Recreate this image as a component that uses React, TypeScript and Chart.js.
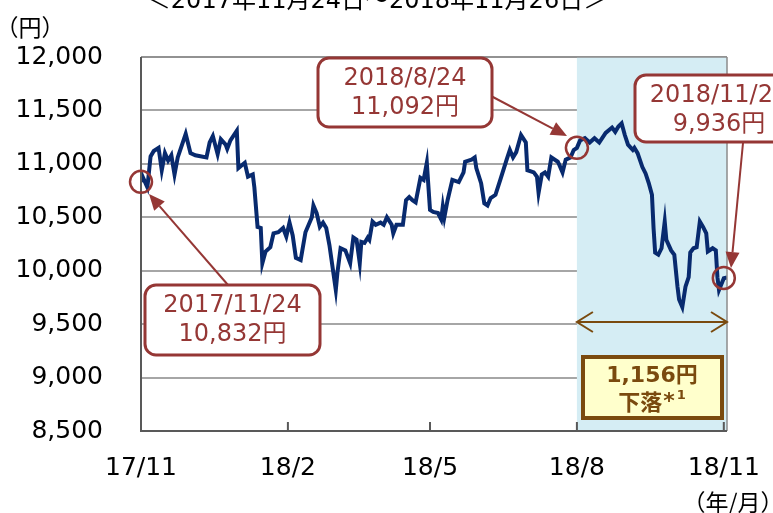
import React, { useEffect, useRef } from 'react';
import { Chart, registerables } from 'chart.js';

Chart.register(...registerables);

// x = calendar days since 2017/11/24
const days = [
  0, 1, 4, 6, 8, 11, 13, 15, 17, 19, 21, 23, 28, 31, 34, 41, 43, 45, 48, 50, 53, 54, 56, 60, 61, 65, 67, 70, 71, 73,
  75, 76, 78, 81, 83, 86, 89, 91, 93, 95, 97, 100, 103, 107, 108, 110, 112, 114, 116, 118, 122, 123, 125, 128, 131,
  133, 135, 137, 138, 140, 142, 143, 145, 147, 150, 152, 154, 157, 158, 160, 164, 166, 168, 170, 172, 175, 177, 179,
  181, 183, 186, 188, 189, 190, 192, 195, 199, 202, 203, 207, 209, 210, 213, 215, 217, 219, 222, 225, 229, 231, 233,
  235, 238, 241, 242, 246, 248, 249, 251, 253, 255, 257, 261, 262, 264, 266, 269, 271, 273, 275, 278, 281, 284, 287,
  291, 295, 297, 299, 301, 303, 305, 308, 309, 311, 314, 316, 318, 320, 321, 322, 324, 326, 328, 329, 332, 334, 336,
  337, 339, 341, 343, 344, 346, 348, 350, 352, 354, 355, 358, 360, 361, 362, 365, 367,
];
const prices = [
  10832, 10880, 10780, 11070, 11120, 11150, 10940, 11100, 11030, 11080, 10900, 11060, 11280, 11100, 11080, 11060, 11200,
  11260, 11090, 11230, 11180, 11140, 11220, 11310, 10960, 11010, 10880, 10900, 10780, 10410, 10400, 10070, 10180, 10220,
  10350, 10360, 10400, 10320, 10450, 10330, 10120, 10100, 10360, 10500, 10610, 10540, 10410, 10450, 10400, 10240, 9820,
  9980, 10210, 10190, 10070, 10310, 10290, 10070, 10270, 10260, 10310, 10290, 10460, 10430, 10450, 10430, 10500, 10430,
  10350, 10430, 10430, 10660, 10690, 10660, 10640, 10870, 10850, 11010, 10570, 10550, 10540, 10480, 10600, 10500, 10660,
  10850, 10830, 10920, 11020, 11040, 11060, 10960, 10820, 10630, 10610, 10680, 10710, 10850, 11040, 11130, 11060, 11110,
  11270, 11200, 10940, 10920, 10880, 10730, 10900, 10920, 10880, 11060, 11020, 10990, 10920, 11040, 11060, 11130, 11150,
  11220, 11240, 11200, 11240, 11200, 11290, 11340, 11300, 11350, 11380, 11270, 11180, 11130, 11150, 11100, 10970, 10910,
  10820, 10710, 10400, 10170, 10150, 10210, 10460, 10290, 10190, 10150, 9850, 9730, 9660, 9850, 9940, 10170, 10210,
  10220, 10460, 10410, 10350, 10180, 10210, 10190, 9940, 9820, 9930, 9936,
];

const tickDays = [0, 92, 181, 273, 365];
const tickLabels = ['17/11', '18/2', '18/5', '18/8', '18/11'];
const yMin = 8500;
const yMax = 12000;
const yStep = 500;
const dayMax = 367;
const shadeStartDay = 273;

const annDays = [0, 273, 365];
const annValues = [10832, 11150, 9932];
const annDates = ['2017/11/24', '2018/8/24', '2018/11/26'];
const annPrices = ['10,832円', '11,092円', '9,936円'];
const dropText = '1,156円';
const dropText2 = '下落';
const dropStar = '*';
const dropNote = '1';
const titleText = '＜2017年11月24日～2018年11月26日＞';
const yUnit = '（円）';
const xUnit = '（年/月）';

const FONT = '"DejaVu Sans", "Noto Sans CJK JP", sans-serif';
const CJK = '"Noto Sans CJK JP", "DejaVu Sans", sans-serif';
const LINE = '#082a6e';
const RED = '#953735';
const BROWN = '#7a4a0e';
const SHADE = '#d5edf4';

function arrow(ctx: CanvasRenderingContext2D, x1: number, y1: number, x2: number, y2: number, color: string) {
  const a = Math.atan2(y2 - y1, x2 - x1);
  const L = 16;
  const W = 7;
  const bx = x2 - L * Math.cos(a);
  const by = y2 - L * Math.sin(a);
  ctx.strokeStyle = color;
  ctx.lineWidth = 2;
  ctx.beginPath();
  ctx.moveTo(x1, y1);
  ctx.lineTo(bx, by);
  ctx.stroke();
  ctx.fillStyle = color;
  ctx.beginPath();
  ctx.moveTo(x2, y2);
  ctx.lineTo(bx + W * Math.sin(a), by - W * Math.cos(a));
  ctx.lineTo(bx - W * Math.sin(a), by + W * Math.cos(a));
  ctx.closePath();
  ctx.fill();
}

function box(ctx: CanvasRenderingContext2D, x: number, y: number, w: number, h: number, r: number, fill: string, stroke: string, lw: number) {
  ctx.beginPath();
  (ctx as any).roundRect(x, y, w, h, r);
  ctx.fillStyle = fill;
  ctx.fill();
  ctx.lineWidth = lw;
  ctx.strokeStyle = stroke;
  ctx.stroke();
}

const overlay = {
  id: 'overlay',
  beforeDatasetsDraw(chart: any) {
    const { ctx, chartArea, scales } = chart;
    const xs = scales.x.getPixelForValue(shadeStartDay);
    ctx.save();
    ctx.fillStyle = SHADE;
    ctx.fillRect(xs, chartArea.top, chartArea.right - xs, chartArea.bottom - chartArea.top);
    ctx.restore();
  },
  afterDatasetsDraw(chart: any) {
    const { ctx, chartArea, scales } = chart;
    const { left, right, top, bottom } = chartArea;
    const sx = scales.x;
    const sy = scales.y;
    ctx.save();
    // frame
    ctx.strokeStyle = '#8c8c8c';
    ctx.lineWidth = 1.5;
    ctx.beginPath();
    ctx.moveTo(left, top);
    ctx.lineTo(right, top);
    ctx.moveTo(right, top);
    ctx.lineTo(right, bottom);
    ctx.stroke();
    ctx.strokeStyle = '#595959';
    ctx.lineWidth = 2;
    ctx.beginPath();
    ctx.moveTo(left, top);
    ctx.lineTo(left, bottom);
    ctx.lineTo(right, bottom);
    ctx.stroke();
    ctx.beginPath();
    tickDays.forEach((d, i) => {
      if (i === 0) return;
      const px = sx.getPixelForValue(d);
      ctx.moveTo(px, bottom);
      ctx.lineTo(px, bottom - 9);
    });
    ctx.stroke();

    // circles
    ctx.strokeStyle = RED;
    ctx.lineWidth = 2.5;
    annDays.forEach((d, i) => {
      const cx = sx.getPixelForValue(d);
      const cy = sy.getPixelForValue(annValues[i]);
      ctx.beginPath();
      ctx.arc(cx, cy, 11, 0, Math.PI * 2);
      ctx.stroke();
    });

    // arrows
    arrow(ctx, 228, 285, 149, 194, RED);
    arrow(ctx, 491, 96, 567, 136, RED);
    arrow(ctx, 743, 143, 731, 268, RED);

    // boxes
    const boxes = [
      [145, 285, 175, 70],
      [318, 58, 174, 69],
      [635, 75, 170, 67],
    ];
    ctx.textAlign = 'center';
    ctx.textBaseline = 'middle';
    boxes.forEach((b, i) => {
      box(ctx, b[0], b[1], b[2], b[3], 11, '#ffffff', RED, 3);
      const cx = i === 2 ? 719 : b[0] + b[2] / 2;
      ctx.fillStyle = RED;
      ctx.font = `24px ${FONT}`;
      ctx.fillText(annDates[i], cx, b[1] + 21);
      ctx.fillText(annPrices[i], cx, b[1] + 50);
    });

    // double arrow
    const xs = sx.getPixelForValue(shadeStartDay);
    const xe = right;
    const ay = 322;
    ctx.strokeStyle = BROWN;
    ctx.lineWidth = 2;
    ctx.beginPath();
    ctx.moveTo(xs, ay);
    ctx.lineTo(xe, ay);
    ctx.moveTo(xs + 16, ay - 10);
    ctx.lineTo(xs, ay);
    ctx.lineTo(xs + 16, ay + 10);
    ctx.moveTo(xe - 16, ay - 10);
    ctx.lineTo(xe, ay);
    ctx.lineTo(xe - 16, ay + 10);
    ctx.stroke();

    // drop box
    ctx.beginPath();
    ctx.rect(583, 357, 139, 61);
    ctx.fillStyle = '#ffffcc';
    ctx.fill();
    ctx.lineWidth = 4;
    ctx.strokeStyle = BROWN;
    ctx.stroke();
    ctx.fillStyle = BROWN;
    ctx.font = `bold 22px ${FONT}`;
    ctx.fillText(dropText, 652, 376);
    ctx.font = `bold 22px ${CJK}`;
    const w1 = ctx.measureText(dropText2).width;
    ctx.font = `bold 22px ${FONT}`;
    const w2 = ctx.measureText(dropStar).width;
    ctx.font = `bold 13px ${FONT}`;
    const w3 = ctx.measureText(dropNote).width;
    const sx0 = 652 - (w1 + w2 + w3 + 3) / 2;
    ctx.textAlign = 'left';
    ctx.font = `bold 22px ${CJK}`;
    ctx.fillText(dropText2, sx0, 402);
    ctx.font = `bold 22px ${FONT}`;
    ctx.fillText(dropStar, sx0 + w1 + 1, 402);
    ctx.font = `bold 13px ${FONT}`;
    ctx.fillText(dropNote, sx0 + w1 + w2 + 3, 396);
    ctx.restore();
  },
  afterDraw(chart: any) {
    const { ctx } = chart;
    ctx.save();
    ctx.fillStyle = '#000';
    ctx.textAlign = 'center';
    ctx.textBaseline = 'alphabetic';
    ctx.font = `24px ${FONT}`;
    ctx.fillText(titleText, 377, 8);
    ctx.textBaseline = 'middle';
    ctx.font = `23px ${CJK}`;
    ctx.fillText(yUnit, 30, 27);
    ctx.fillText(xUnit, 733, 502);
    ctx.restore();
  },
};

export default function App() {
  const ref = useRef<HTMLCanvasElement>(null);
  useEffect(() => {
    const chart = new Chart(ref.current as HTMLCanvasElement, {
      type: 'line',
      data: {
        datasets: [
          {
            data: days.map((d, i) => ({ x: d, y: prices[i] })),
            borderColor: LINE,
            borderWidth: 4,
            pointRadius: 0,
            tension: 0,
            fill: false,
          },
        ],
      },
      options: {
        responsive: false,
        animation: false,
        devicePixelRatio: 1,
        layout: { padding: { top: 57, right: 46, bottom: 0, left: 0 } },
        plugins: { legend: { display: false }, tooltip: { enabled: false } },
        scales: {
          x: {
            type: 'linear',
            min: 0,
            max: dayMax,
            grid: { display: false, drawTicks: false },
            border: { display: false },
            afterBuildTicks: (s: any) => {
              s.ticks = tickDays.map((v) => ({ value: v }));
            },
            afterFit: (s: any) => {
              s.height = 82;
              s.paddingLeft = 0;
              s.paddingRight = 0;
            },
            ticks: {
              autoSkip: false,
              maxRotation: 0,
              padding: 22,
              color: '#000',
              font: { family: FONT, size: 25 },
              callback: (v: any) => {
                const i = tickDays.indexOf(Number(v));
                return i >= 0 ? tickLabels[i] : '';
              },
            },
          },
          y: {
            min: yMin,
            max: yMax,
            grid: { color: '#a6a6a6', lineWidth: 2, drawTicks: false },
            border: { display: false },
            afterFit: (s: any) => {
              s.width = 141;
              s.paddingTop = 0;
              s.paddingBottom = 0;
            },
            ticks: {
              stepSize: yStep,
              padding: 38,
              color: '#000',
              font: { family: FONT, size: 25 },
              callback: (v: any) => Number(v).toLocaleString('en-US'),
            },
          },
        },
      },
      plugins: [overlay],
    } as any);
    return () => chart.destroy();
  }, []);
  return (
    <div style={{ position: 'absolute', left: 0, top: 0, width: 773, height: 513, background: '#fff' }}>
      <canvas ref={ref} width={773} height={513} style={{ display: 'block' }} />
    </div>
  );
}
